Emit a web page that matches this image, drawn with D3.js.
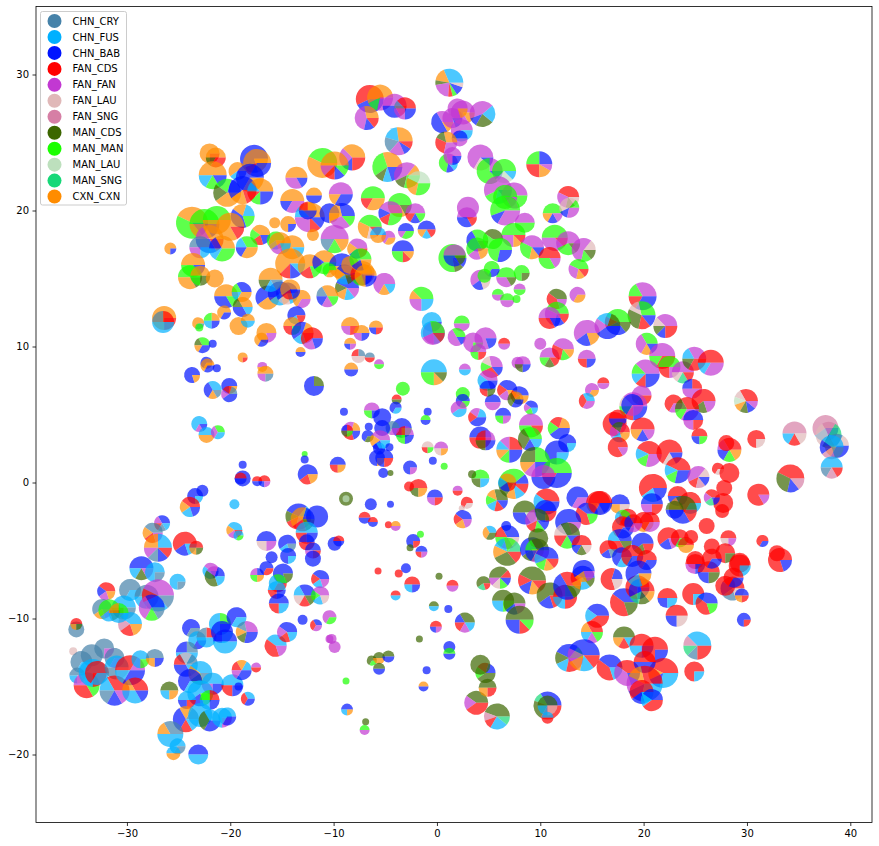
<!DOCTYPE html>
<html><head><meta charset="utf-8">
<script src="https://cdn.jsdelivr.net/npm/d3@7"></script>
<style>html,body{margin:0;padding:0;background:#fff}svg{display:block}text{font-family:"DejaVu Sans",sans-serif}</style>
</head><body><svg id="c" width="879" height="846"></svg>
<script>
const categories=["CHN_CRY","CHN_FUS","CHN_BAB","FAN_CDS","FAN_FAN","FAN_LAU","FAN_SNG","MAN_CDS","MAN_MAN","MAN_LAU","MAN_SNG","CXN_CXN"];
const categoryCodes=["C","F","B","R","P","L","S","D","G","A","N","X"];
const categoryColors=["#4682a9","#00b0ff","#0014ff","#ff0000","#c238d2","#e0b8b8","#d67fa5","#3c6600","#1aff00","#bde0bd","#17d878","#ff8c00"];
const xTicks=[-30,-20,-10,0,10,20,30,40];
const yTicks=[-20,-10,0,10,20,30];
// rows: x, y, size, slices counter-clockwise from east
const north=[
[1.2,29.4,14,"F6X3D1P4R1G1B2L1"],[-6.5,28.2,14,"R4B3"],[-5.5,28.3,13,"X4G1P2"],[-6.8,26.8,12,"X2P3B1R1"],[-4.1,27.7,12,"P3B2R1"],[-3.1,27.5,11,"R3C1P2B2"],[-3.7,25.1,14,"X3F2C2P2B1R1"],
[0.5,26.5,11,"P2B3X1"],[1.5,26.8,10,"P4B1"],[2.5,27.2,12,"P5X1"],[2,27.5,10,"P4X1"],[2.4,25.9,11,"P3F2"],[2.2,25.3,8,"B2P2"],[0.9,25,11,"X2D1R2P2"],[4.4,27.1,13,"F1P4B1D2F1"],
[1.1,23.5,9.5,"P2G3B1F1"],[1.5,24,9,"P3B1"],[4.2,23.9,13,"P6L2B1"],[9.9,23.4,13,"B3G3R3X2P1"],[5.1,22.9,13,"P2G5B1"],[6.5,22.9,12,"G5A2F1"],[5.9,21.5,14,"P4G1F1B1"],[7.5,21.1,13,"P4G1"],[6.6,21,12,"G5P1"],[6.6,20,15,"G5B1P3"],
[3,20.2,11,"P5"],[2.9,19.5,10,"P3B2R1"],[8.5,19.1,10,"P2G2"],[12.7,21,11,"R3P2D1L1"],[11.2,19.8,10,"G3X1B1P1"],[12.8,20.2,10,"G1L3B1P2"],[7.4,18.2,12,"G4P2X1R1"],[3.9,17.8,11,"G2B3D1"],[3.9,17.2,11,"G3P1X1"],[5.4,17.9,10,"D2G3"],[6.1,17.1,12,"G5B2"],
[9.2,17.3,12,"P3G2X1B1"],[11.4,18,13,"G4P3R1"],[12.7,17.6,12,"P4G2D1"],[10.9,16.5,11,"R3G2P1"],[14.2,17.1,12,"L1P4G1D1"],[13.7,15.7,10,"G3P2X1R1"],[8.2,15.4,8,"G3D1"],[6.7,15.1,10,"G3P2D1"],[5.3,15.7,8,"G2B1"],[4.2,14.9,10,"P3B1L1"],[4.6,15.2,7,"G3"],
[8,14.2,6,"P2G2"],[5.9,13.8,6,"G2P2"],[6.8,13.4,7,"G2P2"],[7.7,13.5,4,"G"],[13.6,13.8,8,"P2X1"],[11.6,13.5,10,"D2R2P1"],[11.6,12.4,12,"G3P2B1R1"],[10.9,12.1,11,"P3R2B1"],
[-8.2,23.9,13,"X3P2B1R2"],[-4.8,23.2,15,"X3G3D1F1B2"],[-2.9,22.6,13,"X1P3D1G2"],[-1.8,22,12,"A3X2G2"],[-6.2,20.9,12,"G3R1X2"],[-3.6,20.4,12,"G3X2D1"],[-2.1,19.8,10,"P3R1B1G1"],[-4.5,19.8,12,"P3B1R1G2"],[-3,18.5,8,"B3P1G2"],[-1,18.6,9,"B3X1F1R1"],[-6.5,18.8,12,"G3X2L1R1"],[-4.7,18,7,"P2X1"],[-5.7,18.2,8,"F2X2"],
[-3.3,17,11,"B4G2R1X1"],[1.5,16.5,14,"G7D1B1"],[1.7,16.7,11,"P3B2D1"],[-7.2,15.4,12,"X3R1B1P1"],[-8.7,14.3,12,"B3D1X1F1P1"],[-5.1,14.6,11,"P4X1F1"],[-1.5,13.5,12,"G3X1P2F2"],[-0.5,11.8,10,"F3B1"],[-0.3,11,11,"P3F1"],[2.4,11.7,8,"G2P2"],[-0.4,11,12,"G2F2P2R1"],[1.9,10.7,9,"G2P3B1"],[3.5,10.3,10,"P3G1"],[4.7,10.6,11,"P4B1"],[4,9.6,8,"P2G1R1"],[6.5,10.2,6,"R1P1"]
];
const northWest=[
[-22,24.2,10,"X3R1"],[-21.4,23.9,10,"X3D1R2"],[-17.7,23.8,14,"B4X1"],[-17.4,23.5,14,"X5R1B3"],[-21.7,22.6,14,"X3F1G1B1"],[-19.3,22.9,9,"X3F1B1"],[-13.6,22.4,11,"X3P2B1"],[-18.1,22.4,14,"B4X2"],[-20.3,21.3,14,"B1G1D1X2"],[-18.8,21.5,14,"B3X1R1"],[-17.1,21.4,13,"X3F1R1G1B2"],[-14,20.7,12,"X3B1P2"],
[-11.1,23.5,15,"G3X4"],[-9.9,23.3,14,"X4P1R1B1G1"],[-18.8,19.6,12,"F1X1B2G1"],[-23.7,19.1,16,"X3G3B1"],[-22.5,19,15,"G3X2B1"],[-21.3,19.3,14,"G3X3"],[-20,18.8,14,"X5R1"],[-22,17.9,14,"X2P1B2R1"],[-22.9,17.3,11,"C2P1F1"],[-20.8,17.2,13,"X2B1F1G2"],[-17.1,18.2,10,"X2G1R1B1"],
[-15.7,19.1,5.5,"X1"],[-14.4,19,8,"X3B1"],[-15.6,17.8,9,"G3F1X1"],[-12.3,19.5,15,"X3F1P2R1B1"],[-10.4,19.8,10,"B3X1"],[-14,17.3,12,"X5F1"],[-12,18.2,6,"X"],[-15.2,17.6,11,"X3P1F1"],[-18.4,17.3,11,"G2F1B1X2"],[-23.6,16,12,"X3G2B1"],[-23.9,15.1,12,"G3X2D1"],[-22.9,15.2,10,"X2G1D1"],[-21.5,15,9,"X"],
[-20.4,13.7,12,"X3B2G1"],[-18.9,14,10,"B2G1F1X2"],[-18.8,12.9,10,"X2D1B2F1"],[-20.6,12.5,7,"X2B1"],[-16.4,13.6,12,"B3X2"],[-15.2,13.9,12,"B3F1X1"],[-14.5,13.9,11,"B3L1F1"],[-13.1,13.5,9,"X2P1"],[-10.6,13.7,11,"X2C1B1P1G1"],[-13.6,12.3,9,"B3F1R1"],
[-16.1,14.9,12,"X3D1F1C1"],[-14.2,16.1,15,"X5R1B1F1"],[-14.2,14.2,10,"X3R1B1"],[-12.3,15.9,12,"X3R1G1"],[-10.9,16.2,12,"X2B1G2"],[-9.2,15.9,13,"B3X2P1"],[-8.9,15.3,10,"B2X1F1D1"],[-8.4,16,9,"X3"],[-10.4,15.6,7,"G2X1"],[-7.3,15.3,11,"X2R1G1B1"],[-7.7,17.2,10,"P2X1B1R1"],[-9.9,17.9,14,"P3C1G1X1"],[-9.2,19.6,13,"B2X2P2G1"],[-9.3,21.2,12,"P3X1B2"],[-7.4,16.4,11,"G3B1X1"],[-6.9,15.2,11,"X3B1"],[-11.9,21.1,8,"X2B2"],[-12.5,20,9,"X1R1B2"]
];
const west=[
[-25.8,17.2,6,"X3B1"],[-26.4,12.1,12,"X3R1"],[-26.5,11.8,11,"R1C1F2"],[-23.1,11.7,6,"X2C1"],[-23,11.4,4,"G"],[-21.8,11.9,8,"X1G1F1B1"],[-19.2,11.5,9,"X"],[-18.3,11.9,7,"X1F1"],
[-16.5,11,10,"X3P1"],[-17,10.5,7,"X2B1"],[-14,11.5,9,"X2R1G1"],[-13,11,11,"X1B2F1R1"],[-12.1,10.6,11,"R3P1B1"],[-13.2,9.6,5,"X1B1"],[-22.7,10.1,8,"G2D1X1B2"],[-21.7,10.2,4,"B"],[-18.8,9.2,5,"X3R1"],[-22.3,8.8,6,"B2X1"],[-22.2,8.6,7,"X2B1"],[-21.3,8.4,4,"B"],
[-16.9,8.5,5,"P1X1"],[-16.6,8,8,"X2P1C1"],[-23.7,7.9,8,"B4X1"],[-21.7,6.8,9,"F2B2X1C1"],[-20.1,7.1,8,"B3X1"],[-20.1,6.5,8,"C1R1P1B2"],[-11.9,7.1,10,"D1B3"],[-23,4.3,8,"F4P1B1"],[-22.3,3.5,8,"F1X1"],[-21.2,3.7,7,"G1P1F1"],
[-18.8,1.3,4,"B"],[-18.8,0.3,8,"B"],[-19,0.3,6,"R1B1"],[-17.4,0.1,5,"R1B1"],[-16.7,0.1,6,"R2B1P1"],[-12.8,2.1,3,"G"],[-12.8,1.7,4,"B"],[-12.5,0.6,10,"B3R1X1"],[-22.7,-0.6,6,"B"],[-23.4,-1,8,"B3F1"],[-23.9,-1.8,10,"R2X1F1B1"],[-19.6,-1.6,5,"F"],
[-19.6,-3.5,8,"F2X1P1R1"],[-19.2,-3.9,5,"F2G1"],[-16.5,-4.3,10,"B2L1P1"],[-14.5,-4.5,9,"B3F1C1"],[-13.4,-2.5,13,"F1B2D1R1P1X1"],[-13,-2.7,12,"B1X2R1D1"],[-11.6,-2.5,11,"B"],[-12.6,-3.7,11,"F2R1B1"],[-12.6,-4.4,8,"B1R1"],[-12,-5,8,"B2P1R1"],[-16,-5.5,6,"B"],[-14.4,-5.4,8,"B3F1"],[-12,-5.6,8,"B"]
];
const southWest=[
[-26.6,-3,8,"B2P1R1C1F1"],[-27.5,-3.7,10,"C2X1R1P1"],[-27,-4.8,14,"F2X2P1C1B1R1"],[-24.4,-4.5,12,"R3B1F1"],[-23.3,-4.8,7,"R2X1D1"],
[-28.6,-6.3,12,"B3F1D1P1"],[-27.3,-6.6,10,"F3C1"],[-25.1,-7.3,8,"F3C1"],[-29.7,-7.9,11,"C2F1"],[-32,-8,9,"R2B1P1X1"],[-32.4,-9.3,10,"C3X1P1"],[-30.3,-9.2,12,"F2D1C1"],[-31.7,-9.4,11,"G3F1D1"],[-28.1,-8.4,12,"C2F1P1"],[-27,-8.3,16,"P3R1F2C1"],[-27.6,-9.2,13,"B2P2G1C1"],[-29.7,-10.4,12,"F2S1R1X1"],[-30.8,-9.6,10,"G1X1F2"],
[-34.9,-10.8,8,"C"],[-34.9,-10.4,6,"R2X1D1"],[-35.2,-12.4,4,"L"],[-32.2,-12.2,10,"C3P1"],[-33.4,-12.7,11,"C"],[-34.4,-13.2,11,"C2F1"],[-34.8,-14.2,8,"C2F1L1"],[-33.9,-14.9,13,"F2P1R2G1"],[-33.3,-14,14,"F3R1"],[-32.9,-14,12,"R2F1"],[-31.2,-12.9,10,"C2P1"],[-31,-13.6,12,"F2C1L1"],[-31.2,-15.3,15,"R2F1C1B1P1"],[-29.7,-13.8,15,"P1R2F1B2"],[-29.2,-15.3,13,"R2X1F2B1"],[-28.7,-13,9,"F3G1"],[-27.3,-12.9,9,"C2X1B1"],
[-21.9,-6.5,8,"P2F2B1"],[-21.5,-6.9,10,"B1P1D2F1"],[-23.8,-10.7,9,"B2C1"],[-23.2,-11.6,9,"F2B1"],[-22.3,-11.4,10,"R1C1F2"],[-21,-10.4,11,"G1F2B1"],[-19.4,-9.9,10,"B2F1"],[-20.8,-11,11,"B3F1"],[-20.5,-11.7,12,"B1F1"],[-18.4,-11,11,"P2C1X1D1B2"],[-15.6,-12,11,"F2R2P1"],[-14.5,-11,10,"B2P1R1F1"],[-13,-10.1,5,"B"],[-11.7,-10.5,6,"B1R1P1"],[-10.4,-9.9,7,"P2G1"],[-10.4,-11.5,4,"P"],
[-24.2,-12.5,11,"C1B1F2"],[-24.3,-13.4,12,"C1L1R1B2F1"],[-22.9,-14,12,"F2X1D1C1"],[-23.9,-14.6,12,"B2F1"],[-21.7,-14.8,11,"F2P1B1"],[-22.9,-15.5,13,"F3B1G1"],[-24.2,-16,9,"F2B1R1"],[-22,-16,10,"R1G1F1B1"],[-19.8,-14.9,11,"F2R1B1"],[-19.2,-15,4,"B"],[-18.9,-13.8,10,"F1X1R1P1B2"],[-17.5,-13.6,5,"P1R1"],[-18.3,-15.9,7,"F1R1B1"],[-25.9,-15.3,9,"D2F1X1"],
[-24.3,-17.4,13,"C1X1B2R1F1"],[-22.9,-17.1,12,"F"],[-22,-17.5,11,"F1D1B1"],[-20.8,-17.3,10,"F3P1"],[-20.3,-17.2,9,"F2B1"],[-25.8,-18.5,13,"C2X1F3"],[-25.1,-19.4,8,"F2C1"],[-25.5,-19.9,7,"F1X1"],[-23.1,-20,10,"B1F1"],
[-16.5,-6.3,7,"B2R1"],[-17.4,-6.8,7,"B1P1G1X1"],[-14.9,-6.7,10,"B4D1"],[-15.4,-7.4,9,"G1F1R1"],[-15.5,-7.9,9,"F2R1B1"],[-15.3,-8.9,10,"B2R1F1"],[-12.8,-8.3,11,"B2F1L1R1D1"],[-11.3,-7.1,9,"B2R1F1P1"],[-11.3,-8.3,9,"P2G1F1L1"]
];
const centre=[
[-8.4,11.5,9,"X2P1R1"],[-7.3,11,8,"X2P1B1"],[-8.4,10.2,6,"X2B1P1"],[-5.9,11.4,7,"X2B1R1"],[-7.6,9.3,7,"C1R1L2"],[-6.5,9.2,5,"C1R1"],[-5.6,8.7,5,"P1G1"],[-8.3,8.3,7,"X1B1"],
[-0.3,8.1,13,"F4G2X1D1"],[2.7,8.3,6,"P1F1"],[-3.3,6.9,7,"G"],[-3.9,6.1,5,"R1D1"],[-4,5.5,6,"B2F1"],[-6.3,5.3,8,"P2G1B1"],[-5.3,4.8,9,"B"],[-9,5.2,4,"B"],[-0.9,5.2,4,"B"],[-1.1,4.6,5,"G1B1"],[-3.4,4,10,"B3G1"],[-3.1,3.5,9,"P1R1G1B1"],[-4.3,4,7,"C2P1"],[-8.3,3.8,9,"X1P2R1B1"],[-8.7,3.8,6,"R1B1D1G1"],[-6.6,4.1,4,"B"],[-5.3,4,8,"B"],[-6.7,3.4,6,"B2D1"],[-5.5,3.1,10,"P2X1B1F1"],[-4.6,2.6,4,"B"],[-5.6,2.5,6,"F1B2"],[-5.8,1.8,8,"B3X1"],[-5.1,1.8,9,"B3R1"],[-5.2,0.7,5,"B"],[-4.5,0.7,3,"D"],[-2.6,1.1,7,"B3P1"],[-9.6,1.3,8,"B2R1X1"],[-0.4,1.6,4,"B"],[0.7,1.2,3.5,"G"],[-0.9,2.6,6,"L2R1G1"],[0.4,2.5,7,"P2L1X1"],
[2.5,6.5,7,"G"],[2.5,6,7,"B2G1"],[2.1,5.4,8,"P3F2"],[3.9,4.8,9,"F1P1R1B2"],[5.4,5.9,8,"B2P2"],[6.4,4.9,8,"B2G1P1"],[4.2,3.3,11,"B2R2"],[4.7,3.1,10,"P1R1D1B1"],[5.3,8.5,11,"P2L1G1R2B1"],[4.9,7.5,10,"P2F2B1"],[4.9,6.9,8,"B2R1D1"],
[7,2.4,13,"R2P1F1X1G1B2"],[6.8,6.8,10,"B2R1P1X1"],[8,6.4,9,"B2R1D1X1"],[9.1,5.5,7,"B2P1G1F1"],[7.6,6.1,8,"X1D1B1"],[9.1,4.2,12,"P3G2R1"],[9,3.2,12,"G2D2B1F1"],[11.8,4,11,"X1R1G1B2"],[12.6,2.9,9,"B3F1"],[11.6,2.2,12,"B3F1"],[9.5,1.5,15,"G2D2X1P1B2"],[11.6,0.7,15,"G3R1B2"],[10.3,0.4,12,"P2B2"],[7.4,-0.1,15,"B1G3D2X1F1R1"],[6.8,0,9,"X2F1B1R1"],[5.8,-1.3,11,"D2X1G1F1R1B1"],[4.2,0.3,9,"G2D1F1"],[3.4,0.6,4,"D"],
[10,10.2,6,"P"],[10.9,9.2,10,"P3G1D1R1"],[12.2,9.8,11,"P3R2G1X1"],[14.5,9.1,9,"P2R1B1"],[7.8,8.8,6,"P"],[8.3,8.7,8,"P2D1B1"],[14.5,11,13,"P3B1X1"],[15,6.8,7,"P2X1"],[16.1,7.3,6,"R1P1"],[14.5,6,8,"F1R1P1"],
[-1.8,-0.4,9,"R2D1X1"],[-2.7,-0.3,5,"R"],[-0.2,-1.1,8,"B2P1R1"],[2,-0.6,5,"P1R1"],[2.9,-1.5,6,"R2L1"],[2.4,-1.9,3,"L"],[-8.8,-1.2,7,"D"],[-8.8,-1.2,3.5,"A"],[-6.4,-1.6,6,"B"],[-4.5,-1.6,3.5,"B"],[-7,-2.6,6,"R1B1"],[-6.2,-2.9,5,"R1B1"],[-4.7,-3.1,3.5,"R"],[-4,-3.2,5,"X1P1"],[2.5,-2.7,9,"B2R1X1P1"],[5.1,-3.7,7,"F1X1D1"],[6.7,-3.2,5,"B"],[6.8,-4,12,"B2R1G1P1L1"],
[-2.3,-4.3,7,"B3R1"],[-1.6,-3.8,3.5,"G"],[-2.6,-4.8,3.5,"D"],[-1.5,-5.1,6,"B2R1P1"],[-9.9,-4.5,7,"B"],[-9.5,-4.3,5.5,"R1B1"],[-5.7,-6.5,3.5,"R"],[-3.7,-6.7,4,"R"],[-3,-6.3,5,"B"],[-2.4,-7.5,8,"R2F1B1"],[0.2,-6.9,3.5,"D"],[1.5,-7.6,6,"R1P1"],[-4,-8.3,5,"R1F1"],[-0.3,-9.1,5,"D1F1"],[1.1,-9.3,4,"B"],
[2.7,-10.3,10,"D2B1R1P1F1"],[-0.1,-10.6,6,"R2B1P1"],[-1.7,-11.5,3.5,"D"],[-10.2,-11.5,5,"P"],[-9.9,-12.1,6,"P"],[-6.3,-13.1,5,"D2G1"],[-5.6,-12.9,6,"D1X1"],[-4.7,-12.8,6,"D1B1"],[-5.6,-13.7,6,"D1B1"],[1.2,-12.1,6,"B"],[1.2,-12.6,6,"G1B1"],[-1,-13.8,4,"B"],[-1.3,-15,5,"X1B1"],[-8.8,-14.6,3.5,"G"],[-8.7,-16.7,6,"B2F1X1"],[-6.9,-17.6,3.5,"D"],[-7,-18.2,5,"G1P1"],[8.5,-2.2,12,"D3B2A1"],[4.5,-7.4,7,"D3N1R1"]
];
const east=[
[19.9,13.7,14,"P2G1R1B2"],[19.8,12.3,14,"G2L1D2R1B1"],[17.5,11.8,13,"G3R1B2D1"],[16.5,11.5,13,"D1F1P1B2"],[22.1,11.5,12,"P3L1D1B1R2"],[20.3,10.2,11,"G2P2X1B1"],[21.8,9.3,13,"P3G1R2"],[22.5,8.5,11,"G2R1P1"],[23.8,8.1,11,"P3L1N1R1"],[24.9,9.1,12,"P2F1D1R2"],[26.5,8.8,13,"R3F1P2"],[20.2,8,14,"P3G1F1R1B2"],[24.7,6.9,10,"R1B1P2"],[25.8,6,12,"R3D1P1"],[19.8,6.4,10,"P3D1R2"],[19,5.6,14,"P3L1G1R1B2"],[22.9,5.8,9,"R2P1"],[24.2,5.4,12,"R2D1G1P2"],[24.8,4.6,10,"B2P1R1"],[25.4,3.4,8,"R2B1G1"],[29.9,6,12,"R3L1A1X1D1B1P1"],
[17.2,4.3,12,"R4P1"],[17.5,4.7,9,"R1B1"],[17.7,3.7,10,"R1D1P1F1X1"],[18.9,5.7,11,"B2P1"],[19.9,3.9,12,"R3X1B1P1"],[17.5,2.6,10,"R5P1"],[20.5,2.1,13,"R3F1G1P2"],[22.5,2.2,13,"R4L1B1"],[23.3,0.9,13,"R3F1G1B2"],[25.3,0.4,11,"L1P3R1S1B1"],[27.2,1,6,"R2L1"],[28.3,0.7,10,"R"],[28.3,2.4,12,"R2P1B1G1X1"],[28,2.9,8,"R"],[27.8,-0.4,8,"R"],[30.9,3.2,9,"R3L1"],[34.6,3.6,12,"S3F1R1L1"],[37.6,4,13,"S3F1B1"],[37.9,3.5,13,"N1S1L2D1F1"],[38.7,2.7,12,"L1C2X1B2"],[38.2,2.6,12,"F2B1S1C1"],[38.2,1.1,11,"F3C1S1R1"],[34.2,0.3,14,"R3D2B1S1"],[31.1,-0.9,11,"R5P1"],
[20.9,-0.4,14,"R3F1B1"],[20.8,-1.6,11,"B2P1R1"],[23.3,-1,10,"R1B1"],[24.5,-1.5,11,"R2F1"],[23.8,-2,14,"D2X1B2R1"],[23,-2,9,"D2B2"],[27.7,-1.5,10,"R"],[27.6,-2.1,7,"R"],[26.6,-1.1,8,"R2P1N1B1"],[26.1,-3.2,8,"R"],[22.4,-4.1,11,"R3B1P1"],[23.5,-4.1,9,"R2G1"],[24.1,-4.6,8,"R1X1"],[24.6,-4,7,"R"],[26.6,-4.7,8,"R"],[28.2,-4.1,8,"R2L1P1"],[31.5,-4.3,6,"R2B1"],[27.9,-5.2,10,"R3D1"],[25,-5.7,9,"R"],[29.3,-5.9,10,"R"],[32.9,-5.2,8,"R"],[33.2,-5.7,12,"R4B1"]
];
const southEast=[
[10.6,-1.4,13,"R2F1B2"],[10.5,-2.1,11,"B3R1"],[13.6,-1.1,11,"B2P1"],[15.6,-1.5,12,"R3X1L1B1"],[14.5,-2.3,11,"B2R2G1"],[12.7,-2.9,13,"B3C1P1"],[12.6,-3.9,13,"D2L1R1G1B1"],[9.7,-2.8,12,"D2P2R1G1B1"],[14,-4.6,10,"R3B1D1L1"],
[17.7,-1.6,10,"B2X1L1"],[15.8,-1.5,12,"R2B1"],[18.5,-2.6,9,"R2B1"],[18,-2.6,8,"G1F1R1"],[20,-2.9,10,"R2X1"],[20.6,-2.9,10,"R2P1"],[18,-3.3,11,"R2B1"],[19,-3,9,"R1B1P1"],[17.7,-4.3,12,"B2F1R2D1"],[19.9,-4.5,11,"B3D1R1"],[16.6,-4.9,9,"R3B1C1"],[17.9,-5.5,10,"B2F1"],[18.9,-5.4,11,"R2B1"],[20.3,-5.7,10,"R2B1"],
[6.8,-5.1,14,"N1G1F1X1D2R1"],[9.2,-4.9,12,"B3D1X1"],[9.8,-4.1,10,"D"],[9.7,-5,12,"D2G1B1P2"],[10.6,-5.6,12,"B3F1G1X1R1"],[9.2,-7.2,14,"D3R1B1X1R1"],[6.1,-7,11,"R1D3P1L1G1B1"],[10.9,-8.3,13,"D3B1R1"],[12.4,-8.4,12,"D1R1F1R1"],[12.6,-7.6,14,"R2B3D1"],[14.1,-7,12,"B3R1X1F1D1"],[14.2,-6.5,11,"B3X1P1"],[16.9,-7.1,11,"B1R3L1"],[18.1,-8.8,14,"B2R2D1"],[19.4,-7.7,12,"R3B1"],[19.8,-8,13,"R2B2N1D1X1"],[19.5,-6.7,13,"B3F1X1"],[22.3,-8.5,10,"R2B1F1"],[24.8,-8.2,11,"R3F1"],[26.1,-8.9,11,"B2R2G1"],[23.2,-9.8,11,"R2B1L1"],[29.7,-10.1,7,"B3R1"],[25,-6,10,"R2P1B1"],[26.3,-6.6,11,"R2B1D1"],[29.3,-6.1,11,"R3F1"],[28.6,-7.8,12,"R2B1C1L1"],[27.9,-7.6,10,"R"],[29.5,-8.3,7,"B2X1R1"],[28.7,-7,10,"R2B1"],[26.6,-5.6,10,"R2B1"],
[6.4,-8.7,11,"D2F1G1"],[7.5,-8.9,11,"D3B1P1"],[8,-10.1,14,"D4B2R1G1"],[15.5,-9.8,12,"B2F1R2"],[15,-11,11,"R2X1F1P1G1"],[18.1,-11.4,11,"D3X1R1F1"],[19.8,-12,12,"R2F1B1"],[21.1,-12.3,13,"R3B1"],[25.2,-12,14,"F3S1N1C1R2"],[24.9,-13.9,10,"R3F1"],[12.8,-12.9,14,"G1B2D1F1R1P1"],[14.2,-12.7,16,"B3P1X1F1R1"],[16.7,-13.6,13,"B2R2F1"],[18.4,-14,13,"R2P2B1"],[21.9,-14,15,"R3X1B1F2"],[20.1,-13.2,11,"R2B2"],[20.1,-14.8,18,"R2X1P1B1F2"],[19.8,-15.4,12,"R3B1F1"],[20.8,-16,11,"B2F1R2"],
[10.7,-16.4,14,"B3N1D2R3"],[10.7,-16.4,10,"D2F1L1"],[10.7,-17.3,6,"F1R1"],[5.8,-17.2,13,"D4S1R1F2N1"],[3.8,-16.2,12,"D2P1R2"],[4.9,-15.1,9,"D2X1R1"],[4.7,-14,10,"B1R1G1D2"],[4.2,-13.4,10,"D"]
];
const pies=[...north,...northWest,...west,...southWest,...centre,...east,...southEast];

const x=d3.scaleLinear().domain([-38.8,42.1]).range([36,872]);
const y=d3.scaleLinear().domain([35,-25]).range([6.5,822.5]);
const r=d3.scaleLinear().domain([0,20]).range([0,20]);
const color=d3.scaleOrdinal().domain(categoryCodes).range(categoryColors);
const svg=d3.select("#c");
const pie=d3.pie().sort(null).value(d=>d.n).startAngle(Math.PI/2).endAngle(Math.PI/2-2*Math.PI);
const parse=s=>[...s.matchAll(/([A-Z])(\d*)/g)].map(m=>({c:m[1],n:m[2]===""?1:+m[2]}));
const plot=svg.append("g");
const glyph=plot.selectAll("g").data(pies).join("g").attr("transform",d=>`translate(${x(d[0])},${y(d[1])})`);
glyph.selectAll("path").data(d=>pie(parse(d[3])).map(s=>({s,R:r(d[2])}))).join("path")
 .attr("d",d=>d3.arc().innerRadius(0).outerRadius(d.R)(d.s)).attr("fill",d=>color(d.s.data.c)).attr("fill-opacity",.7);
const fmt=d=>String(d).replace("-","\u2212");
const ax=svg.append("g").attr("transform","translate(0,822.5)").call(d3.axisBottom(x).tickValues(xTicks).tickSize(3.5).tickPadding(3.5).tickSizeOuter(0).tickFormat(fmt));
const ay=svg.append("g").attr("transform","translate(36,0)").call(d3.axisLeft(y).tickValues(yTicks).tickSize(3.5).tickPadding(3.5).tickSizeOuter(0).tickFormat(fmt));
[ax,ay].forEach(a=>{a.select(".domain").remove();a.selectAll("text").attr("font-size",10).attr("fill","#000").style("font-family","DejaVu Sans");a.selectAll("line").attr("stroke","#000").attr("stroke-width",.8);});
svg.append("rect").attr("x",36).attr("y",6.5).attr("width",836).attr("height",816).attr("fill","none").attr("stroke","#000").attr("stroke-width",.8);
const lg=svg.append("g");
lg.append("rect").attr("x",40.5).attr("y",11.5).attr("width",86).attr("height",193.5).attr("rx",2).attr("fill","#fff").attr("fill-opacity",.8).attr("stroke","#ccc");
const row=lg.selectAll(".row").data(categories).join("g").attr("transform",(d,i)=>`translate(0,${21+i*15.96})`);
row.append("circle").attr("cx",54.5).attr("r",7).attr("fill",(d,i)=>categoryColors[i]);
row.append("text").attr("x",72.5).attr("y",3.6).attr("font-size",10).attr("fill","#000").text(d=>d);
</script></body></html>
